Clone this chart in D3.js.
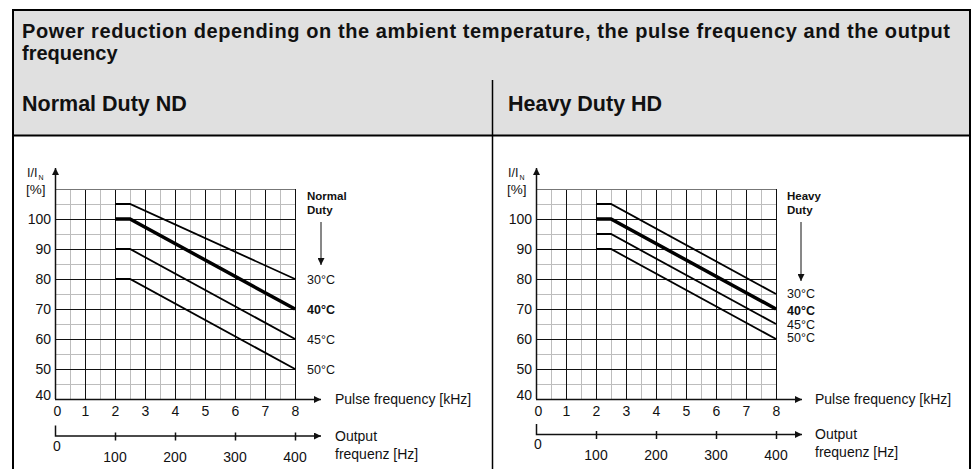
<!DOCTYPE html>
<meta charset="utf-8">
<script src="https://d3js.org/d3.v7.min.js"></script>
<style>
  body { margin: 0; background: #fff; }
  svg text { font-family: "Liberation Sans", Arial, sans-serif; fill: #111; }
</style>
<div id="chart"></div>
<script>
// data
var pulseTicks = [0, 1, 2, 3, 4, 5, 6, 7, 8];        // kHz
var outputTicks = [0, 100, 200, 300, 400];           // Hz
var percentTicks = [40, 50, 60, 70, 80, 90, 100];
var kneeX = [2, 2.5, 8];                             // kHz where the curves bend
var temps = ["30°C", "40°C", "45°C", "50°C"];
var ndValues = [[105, 105, 80], [100, 100, 70], [90, 90, 60], [80, 80, 50]];
var hdValues = [[105, 105, 75], [100, 100, 70], [95, 95, 65], [90, 90, 60]];

var W = 973, H = 469;
var svg = d3.select("#chart").append("svg")
  .attr("width", W).attr("height", H);

var defs = svg.append("defs");
defs.append("marker")
  .attr("id", "arrow")
  .attr("viewBox", "0 0 10 10")
  .attr("refX", 10).attr("refY", 5)
  .attr("markerUnits", "userSpaceOnUse")
  .attr("markerWidth", 14).attr("markerHeight", 7)
  .attr("orient", "auto")
  .append("path").attr("d", "M0,0 L10,5 L0,10 z").attr("fill", "#111");

// header
svg.append("rect")
  .attr("x", 13).attr("y", 10).attr("width", 957).attr("height", 125)
  .attr("fill", "#e0e0e0");
svg.append("path")
  .attr("d", "M13,470 V10 H970 V470")
  .attr("fill", "none").attr("stroke", "#000").attr("stroke-width", 2);
svg.append("line")
  .attr("x1", 13).attr("x2", 970).attr("y1", 135.5).attr("y2", 135.5)
  .attr("stroke", "#000").attr("stroke-width", 2);
svg.append("line")
  .attr("x1", 492.5).attr("x2", 492.5).attr("y1", 80).attr("y2", 470)
  .attr("stroke", "#000").attr("stroke-width", 1.5);

// title, two lines
svg.append("text")
  .attr("x", 22).attr("y", 38)
  .attr("textLength", 928).attr("lengthAdjust", "spacing")
  .style("font-size", "20px").style("font-weight", "bold")
  .text("Power reduction depending on the ambient temperature, the pulse frequency and the output");
svg.append("text")
  .attr("x", 22).attr("y", 60)
  .style("font-size", "20px").style("font-weight", "bold")
  .text("frequency");

svg.append("text").attr("x", 22).attr("y", 111)
  .style("font-size", "21.5px").style("font-weight", "bold").text("Normal Duty ND");
svg.append("text").attr("x", 508).attr("y", 111)
  .style("font-size", "21.5px").style("font-weight", "bold").text("Heavy Duty HD");

function drawPanel(opts) {
  var g = svg.append("g");

  var x = d3.scaleLinear().domain([0, 8]).range([opts.x0, opts.x0 + 240]);
  var y = d3.scaleLinear().domain([40, 110]).range([399, 189]);
  var xOut = d3.scaleLinear().domain([0, 400]).range(x.range());

  // minor grid
  var minorX = d3.range(0.5, 8, 1), minorY = d3.range(45, 110, 10);
  g.selectAll(".gxm").data(minorX).enter().append("line")
    .attr("x1", function(d) { return x(d) + 0.5; }).attr("x2", function(d) { return x(d) + 0.5; })
    .attr("y1", y(110)).attr("y2", y(40))
    .attr("stroke", "#bdbdbd").attr("stroke-width", 1);
  g.selectAll(".gym").data(minorY).enter().append("line")
    .attr("x1", x(0)).attr("x2", x(8))
    .attr("y1", function(d) { return y(d) + 0.5; }).attr("y2", function(d) { return y(d) + 0.5; })
    .attr("stroke", "#bdbdbd").attr("stroke-width", 1);

  // major grid
  g.selectAll(".gx").data(pulseTicks.slice(1)).enter().append("line")
    .attr("x1", function(d) { return x(d) + 0.5; }).attr("x2", function(d) { return x(d) + 0.5; })
    .attr("y1", y(110)).attr("y2", y(40))
    .attr("stroke", "#111").attr("stroke-width", 1);
  g.selectAll(".gy").data(percentTicks.slice(1).concat([110])).enter().append("line")
    .attr("x1", x(0)).attr("x2", x(8))
    .attr("y1", function(d) { return y(d) + 0.5; }).attr("y2", function(d) { return y(d) + 0.5; })
    .attr("stroke", function(d) { return d == 110 ? "#777" : "#111"; }).attr("stroke-width", 1);

  // y axis with arrow
  g.append("line")
    .attr("x1", x(0) + 0.5).attr("x2", x(0) + 0.5).attr("y1", y(40)).attr("y2", 168)
    .attr("stroke", "#111").attr("stroke-width", 1.5).attr("marker-end", "url(#arrow)");
  // pulse axis with arrow
  g.append("line")
    .attr("x1", x(0)).attr("x2", x(8) + 26).attr("y1", y(40) + 0.5).attr("y2", y(40) + 0.5)
    .attr("stroke", "#111").attr("stroke-width", 1.5).attr("marker-end", "url(#arrow)");

  // y tick labels
  var yAxis = g.append("g")
    .attr("transform", "translate(" + (x(0) - 4) + ",0)")
    .call(d3.axisLeft(y).tickValues(percentTicks).tickSize(0).tickPadding(0));
  yAxis.select(".domain").remove();
  yAxis.selectAll("text").style("font-size", "14px")
    .attr("font-family", null).attr("fill", "#111")
    .attr("dy", function(d) { return d == 40 ? "0.05em" : "0.35em"; });

  // y axis label
  var yl = g.append("text").attr("x", x(0) - 28).attr("y", 177).style("font-size", "12.5px");
  yl.append("tspan").text("I/I");
  yl.append("tspan").attr("dy", 3).attr("dx", 1).style("font-size", "7px").text("N");
  g.append("text").attr("x", x(0) - 29).attr("y", 194).style("font-size", "13.5px").text("[%]");

  // pulse tick labels
  var xAxis = g.append("g")
    .attr("transform", "translate(0," + (y(40) + 6) + ")")
    .call(d3.axisBottom(x).tickValues(pulseTicks).tickSize(0).tickPadding(0));
  xAxis.select(".domain").remove();
  xAxis.selectAll("text").style("font-size", "14px")
    .attr("font-family", null).attr("fill", "#111").attr("dy", "0.75em")
    .attr("dx", function(d) { return d == 0 ? 2 : 0; });

  g.append("text").attr("x", opts.labelX + 28).attr("y", 404)
    .style("font-size", "14px").text("Pulse frequency [kHz]");

  // output frequency axis
  var oy = opts.outY;
  g.append("path")
    .attr("d", "M" + (x(0) + 0.5) + "," + (oy - 10) + " V" + (oy + 0.5) + " H" + (x(8) + 26))
    .attr("fill", "none").attr("stroke", "#111").attr("stroke-width", 1.5)
    .attr("marker-end", "url(#arrow)");
  g.selectAll(".otick").data(outputTicks.slice(1)).enter().append("line")
    .attr("x1", function(d) { return xOut(d) + 0.5; }).attr("x2", function(d) { return xOut(d) + 0.5; })
    .attr("y1", oy - 3).attr("y2", oy + 5)
    .attr("stroke", "#111").attr("stroke-width", 1.5);
  g.selectAll(".olab").data(outputTicks).enter().append("text")
    .attr("x", function(d) { return d == 0 ? xOut(d) + 2 : xOut(d); })
    .attr("y", function(d) { return d == 0 ? oy + 15 : oy + 26; })
    .attr("text-anchor", "middle").style("font-size", "14px")
    .text(function(d) { return d; });
  var ol = g.append("text").attr("x", opts.labelX + 28).attr("y", oy + 5).style("font-size", "14px");
  ol.append("tspan").text("Output");
  ol.append("tspan").attr("x", opts.labelX + 28).attr("dy", 18).text("frequenz [Hz]");

  // derating curves
  var line = d3.line()
    .x(function(d, i) { return x(kneeX[i]); })
    .y(function(d) { return y(d); });
  g.selectAll(".curve").data(opts.values).enter().append("path")
    .attr("d", line)
    .attr("fill", "none").attr("stroke", "#000")
    .attr("stroke-width", function(d, i) { return i == 1 ? 3.5 : 1.8; });

  // temperature labels
  g.selectAll(".tl").data(opts.values).enter().append("text")
    .attr("x", opts.labelX)
    .attr("y", function(d) { return y(d[d.length - 1]); })
    .attr("dy", function(d, i) { return opts.labelDy[i]; })
    .style("font-size", "12.5px")
    .style("font-weight", function(d, i) { return i == 1 ? "bold" : "normal"; })
    .text(function(d, i) { return temps[i]; });

  // duty caption and arrow
  var cap = g.append("text").attr("x", opts.labelX).attr("y", 200)
    .style("font-size", "11.5px").style("font-weight", "bold");
  cap.append("tspan").text(opts.caption);
  cap.append("tspan").attr("x", opts.labelX).attr("dy", 14).text("Duty");
  g.append("line")
    .attr("x1", opts.labelX + 14).attr("x2", opts.labelX + 14)
    .attr("y1", 222).attr("y2", opts.arrowEnd)
    .attr("stroke", "#111").attr("stroke-width", 1).attr("marker-end", "url(#arrow)");
}

drawPanel({ x0: 55, values: ndValues, labelX: 307, outY: 435.5, caption: "Normal", arrowEnd: 265,
            labelDy: [5, 5, 5, 5] });
drawPanel({ x0: 536, values: hdValues, labelX: 787, outY: 434, caption: "Heavy", arrowEnd: 281,
            labelDy: [4, 6, 5, 3] });
</script>
